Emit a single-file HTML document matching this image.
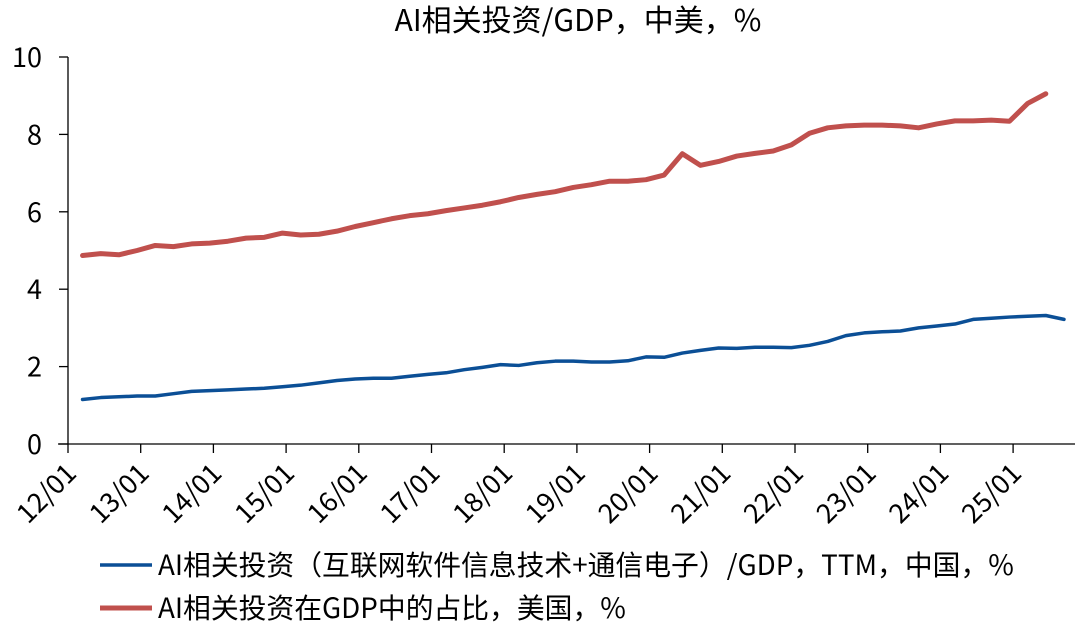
<!DOCTYPE html>
<html><head><meta charset="utf-8"><style>
body{margin:0;background:#fff;}
svg{display:block;font-family:"Noto Sans CJK SC","Liberation Sans",sans-serif;}
</style></head><body>
<svg id="chart" width="1080" height="633">
<text x="578" y="31" font-size="30" text-anchor="middle" fill="#000">AI相关投资/GDP，中美，%</text>
<g id="axes"></g>
<g id="series"></g>
<g>
<line x1="100" y1="565" x2="152" y2="565" stroke="#0b4f96" stroke-width="3.5"/>
<text x="158" y="575" font-size="27.8">AI相关投资（互联网软件信息技术+通信电子）/GDP，TTM，中国，%</text>
<line x1="100" y1="608" x2="152" y2="608" stroke="#c0504d" stroke-width="5"/>
<text x="158" y="618" font-size="27.8">AI相关投资在GDP中的占比，美国，%</text>
</g>
</svg>
<script>
const yTicks=[0,2,4,6,8,10];
const xLabels=["12/01","13/01","14/01","15/01","16/01","17/01","18/01","19/01","20/01","21/01","22/01","23/01","24/01","25/01"];
const china=[1.15,1.2,1.22,1.24,1.24,1.3,1.36,1.38,1.4,1.42,1.44,1.48,1.52,1.58,1.64,1.68,1.7,1.7,1.75,1.8,1.84,1.92,1.98,2.05,2.03,2.1,2.14,2.14,2.12,2.12,2.15,2.25,2.24,2.35,2.42,2.48,2.47,2.5,2.5,2.49,2.55,2.65,2.8,2.87,2.9,2.92,3.0,3.05,3.1,3.22,3.25,3.28,3.3,3.32,3.22];
const us=[4.87,4.92,4.89,5.0,5.13,5.1,5.17,5.19,5.24,5.32,5.34,5.45,5.4,5.42,5.5,5.62,5.72,5.82,5.9,5.95,6.03,6.1,6.17,6.26,6.37,6.45,6.52,6.63,6.7,6.79,6.79,6.83,6.95,7.5,7.2,7.3,7.44,7.51,7.57,7.73,8.03,8.17,8.22,8.24,8.24,8.22,8.17,8.27,8.35,8.35,8.37,8.34,8.8,9.05];
const NS="http://www.w3.org/2000/svg";
const y0=444,yTop=57,yMax=10,x0=68,yearW=72.7;
function yS(v){return y0-(y0-yTop)*v/yMax;}
function xS(i){return x0+yearW*(i+0.8)/4;}
function mk(t,a,p){const e=document.createElementNS(NS,t);for(const k in a)e.setAttribute(k,a[k]);p.appendChild(e);return e;}
const ax=document.getElementById('axes');
const yl=mk('line',{x1:x0,y1:yTop,x2:x0,y2:y0,stroke:'#000','stroke-width':1.3},ax);


const xl=mk('line',{x1:x0-10,y1:y0,x2:1075,y2:y0,stroke:'#000','stroke-width':1.3},ax);


yTicks.forEach(v=>{
 mk('line',{x1:x0-9,y1:yS(v),x2:x0,y2:yS(v),stroke:'#000','stroke-width':1.3},ax);
 const t=mk('text',{x:42,y:yS(v)+10,'font-size':27,'text-anchor':'end'},ax);t.textContent=v;
 
 
});
xLabels.forEach((l,k)=>{
 const x=x0+yearW*k;
 mk('line',{x1:x,y1:y0,x2:x,y2:y0+9,stroke:'#000','stroke-width':1.3},ax);
 const t=mk('text',{x:x+10,y:y0+31,'font-size':27,'text-anchor':'end',transform:`rotate(-45 ${x+10} ${y0+31})`},ax);t.textContent=l;
 
 
});
const sg=document.getElementById('series');
function line(d,c,w,n){
 const p=mk('polyline',{points:d.map((v,i)=>xS(i)+','+yS(v)).join(' '),fill:'none',stroke:c,'stroke-width':w,'stroke-linejoin':'round','stroke-linecap':'round'},sg);
 
 
}
line(china,'#0b4f96',3.5,'line-china');
line(us,'#c0504d',5,'line-us');
</script>
</body></html>
